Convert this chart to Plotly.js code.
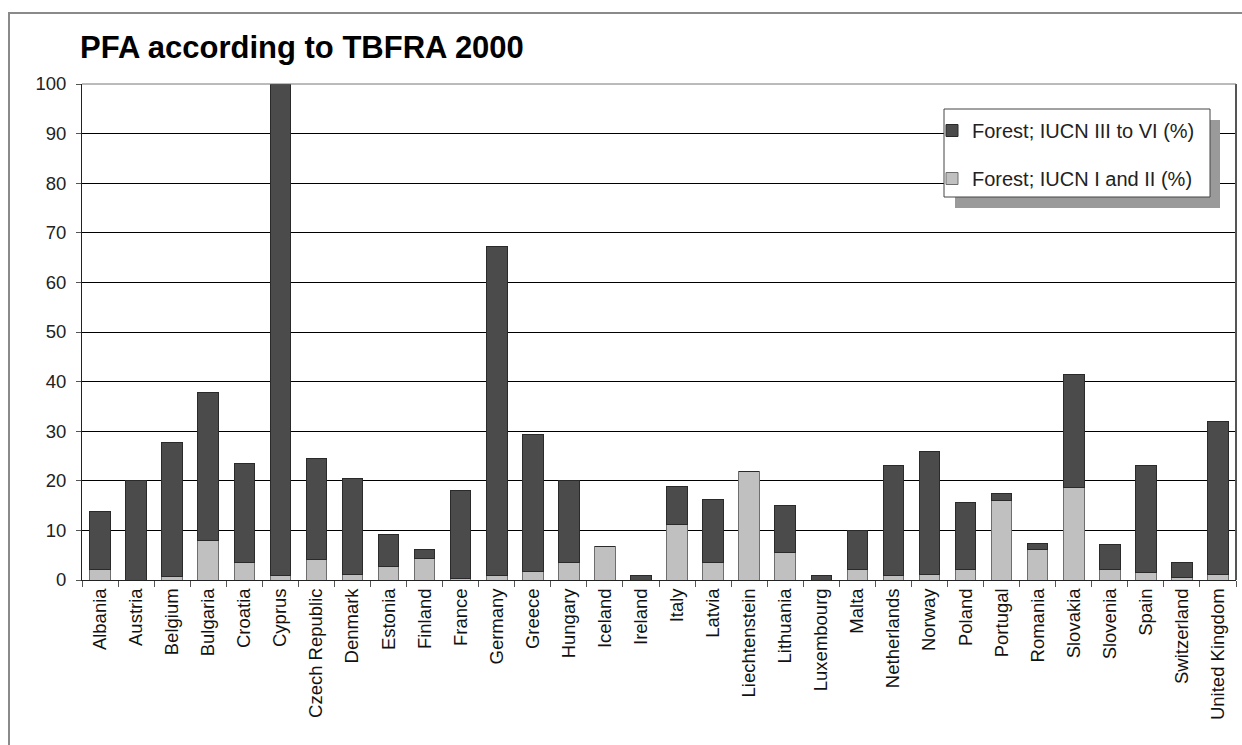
<!DOCTYPE html>
<html>
<head>
<meta charset="utf-8">
<script src="https://cdn.plot.ly/plotly-3.0.1.min.js"></script>
<style>
  html, body { margin: 0; padding: 0; background: #fff; }
  #wrap { position: relative; width: 1242px; height: 745px; overflow: hidden; }
  #chart { width: 1242px; height: 745px; }
  #frame { position: absolute; left: 8px; top: 12px; width: 1300px; height: 800px;
           border-top: 2px solid #8a8a8a; border-left: 2px solid #8a8a8a; pointer-events: none; }
</style>
</head>
<body>
<div id="wrap">
  <div id="chart"></div>
  <div id="frame"></div>
</div>
<script>
const countries = ["Albania","Austria","Belgium","Bulgaria","Croatia","Cyprus","Czech Republic","Denmark","Estonia","Finland","France","Germany","Greece","Hungary","Iceland","Ireland","Italy","Latvia","Liechtenstein","Lithuania","Luxembourg","Malta","Netherlands","Norway","Poland","Portugal","Romania","Slovakia","Slovenia","Spain","Switzerland","United Kingdom"];

const iucnIandII = [2.2, 0, 0.7, 7.9, 3.5, 0.9, 4.1, 1.1, 2.8, 4.4, 0.3, 0.9, 1.7, 3.5, 6.8, 0, 11.1, 3.5, 21.9, 5.5, 0, 2.2, 0.9, 1.1, 2.1, 16.0, 6.1, 18.7, 2.1, 1.5, 0.6, 1.1];

const iucnIIItoVI = [11.7, 20.0, 27.1, 29.9, 19.9, 99.1, 20.4, 19.3, 6.4, 1.8, 17.8, 66.3, 27.6, 16.6, 0, 0.9, 7.8, 12.8, 0, 9.6, 0.9, 7.8, 22.1, 24.9, 13.6, 1.5, 1.3, 22.8, 5.0, 21.5, 3.0, 30.9];

const yTicks = [0, 10, 20, 30, 40, 50, 60, 70, 80, 90, 100];

const traces = [
  {
    type: "bar", name: "Forest; IUCN I and II (%)", x: countries, y: iucnIandII,
    legendgroup: "a", legendrank: 2,
    marker: { color: "#c0c0c0", line: { color: "#6e6e6e", width: 1 } }
  },
  {
    type: "bar", name: "Forest; IUCN III to VI (%)", x: countries, y: iucnIIItoVI,
    legendgroup: "b", legendrank: 1,
    marker: { color: "#4b4b4b", line: { color: "#2a2a2a", width: 1 } }
  }
];

// plot area pixels: x 82..1236, y 84..580
const L = 82, R = 1236, T = 84, B = 580;
const px = v => (v - L) / (R - L);
const py = v => (B - v) / (B - T);

const layout = {
  width: 1242, height: 745,
  margin: { l: L, r: 1242 - R, t: T, b: 745 - B, pad: 0 },
  paper_bgcolor: "#ffffff", plot_bgcolor: "#ffffff",
  barmode: "stack", bargap: 0.43,
  font: { family: "Liberation Sans, Arial, sans-serif", color: "#222", size: 18 },
  title: {
    text: "<b>PFA according to TBFRA 2000</b>",
    xref: "container", yref: "container",
    x: 80 / 1242, xanchor: "left", y: 1 - 47 / 745, yanchor: "middle",
    font: { family: "Liberation Sans, Arial, sans-serif", size: 31, color: "#000" }
  },
  xaxis: {
    type: "category", tickangle: -90, tickson: "boundaries",
    ticks: "outside", ticklen: 6, tickcolor: "#555", tickwidth: 1,
    showline: true, linecolor: "#222", linewidth: 1,
    showgrid: false, automargin: false,
    tickfont: { size: 18.5, color: "#111" }
  },
  yaxis: {
    range: [0, 100], tickvals: yTicks, ticktext: yTicks.map(String),
    ticks: "outside", ticklen: 5, tickcolor: "#555",
    showline: true, linecolor: "#222", linewidth: 1,
    showgrid: true, gridcolor: "#000", gridwidth: 1, zeroline: false,
    automargin: false, ticklabelstandoff: 6,
    tickfont: { size: 18.5, color: "#222" }
  },
  legend: {
    x: px(932), y: py(111), xanchor: "left", yanchor: "top",
    bgcolor: "rgba(0,0,0,0)", borderwidth: 0,
    traceorder: "grouped", tracegroupgap: 19,
    font: { size: 20, color: "#222" },
    itemwidth: 30
  },
  shapes: [
    { type: "rect", xref: "paper", yref: "paper", x0: px(955), x1: px(1220), y0: py(208), y1: py(120),
      fillcolor: "#9a9a9a", line: { width: 0 }, layer: "above" },
    { type: "rect", xref: "paper", yref: "paper", x0: px(944), x1: px(1210), y0: py(197), y1: py(109),
      fillcolor: "#ffffff", line: { color: "#444", width: 1 }, layer: "above" },
    { type: "line", xref: "paper", yref: "paper", x0: 1, x1: 1, y0: 0, y1: 1,
      line: { color: "#555", width: 2 } },
    { type: "line", xref: "paper", yref: "paper", x0: 0, x1: 1, y0: 1, y1: 1,
      line: { color: "#777", width: 1 } }
  ],
  showlegend: true
};

Plotly.newPlot("chart", traces, layout, { displayModeBar: false, staticPlot: true });
</script>
</body>
</html>
